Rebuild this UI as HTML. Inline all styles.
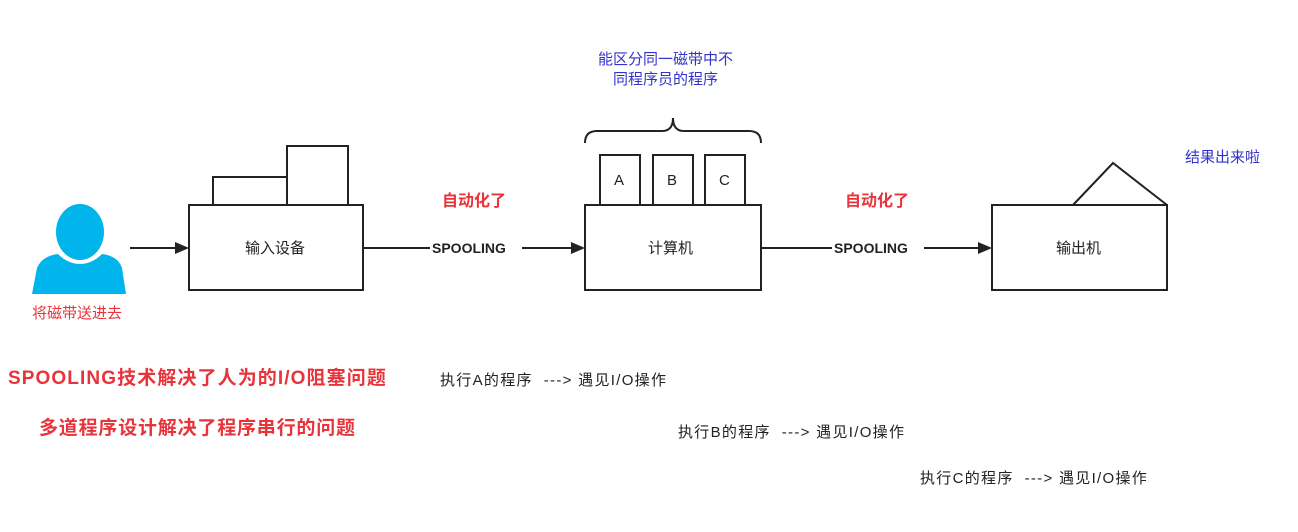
<!DOCTYPE html>
<html><head><meta charset="utf-8"><style>
body{margin:0;background:#fff;width:1298px;height:532px;overflow:hidden;position:relative;font-family:"Liberation Sans","Noto Sans CJK SC",sans-serif}
.t{position:absolute;white-space:nowrap;line-height:1}
.r{color:#e8333a;font-weight:bold}
.b{color:#3333cc}
.k{color:#222;font-size:15px;letter-spacing:1.3px}
</style></head><body>
<svg width="1298" height="532" style="position:absolute;left:0;top:0">
<g fill="none" stroke="#222" stroke-width="2">
<rect x="213" y="177" width="74" height="28" fill="#fff"/>
<rect x="287" y="146" width="61" height="59" fill="#fff"/>
<rect x="189" y="205" width="174" height="85" fill="#fff"/>
<rect x="600" y="155" width="40" height="50"/>
<rect x="653" y="155" width="40" height="50"/>
<rect x="705" y="155" width="40" height="50"/>
<rect x="585" y="205" width="176" height="85"/>
<path d="M1073 205 L1113 163 L1167 205"/>
<rect x="992" y="205" width="175" height="85"/>
<path d="M585 143 Q585 131 597 131 L662 131 Q673 131 673 118 Q673 131 684 131 L749 131 Q761 131 761 143"/>
<line x1="130" y1="248" x2="178" y2="248"/>
<line x1="363" y1="248" x2="430" y2="248"/>
<line x1="522" y1="248" x2="574" y2="248"/>
<line x1="761" y1="248" x2="832" y2="248"/>
<line x1="924" y1="248" x2="981" y2="248"/>
</g>
<g fill="#222">
<polygon points="189,248 175,242 175,254"/>
<polygon points="585,248 571,242 571,254"/>
<polygon points="992,248 978,242 978,254"/>
</g>
<g fill="#00b4ec">
<ellipse cx="80" cy="232" rx="24" ry="28"/>
<path d="M32 294 L37 268 Q42 256 58 254 Q68 264 80 264 Q92 264 102 254 Q118 256 122 268 L126 294 Z"/>
</g>
</svg>
<div class="t" style="left:245px;top:241px;font-size:15px;color:#222">输入设备</div>
<div class="t" style="left:432px;top:241px;font-size:14px;font-weight:bold;color:#222">SPOOLING</div>
<div class="t" style="left:834px;top:241px;font-size:14px;font-weight:bold;color:#222">SPOOLING</div>
<div class="t" style="left:648px;top:241px;font-size:15px;color:#222">计算机</div>
<div class="t" style="left:1056px;top:241px;font-size:15px;color:#222">输出机</div>
<div class="t" style="left:614px;top:173px;font-size:15px;color:#222">A</div>
<div class="t" style="left:667px;top:173px;font-size:15px;color:#222">B</div>
<div class="t" style="left:719px;top:173px;font-size:15px;color:#222">C</div>
<div class="t r" style="left:442px;top:194px;font-size:16px">自动化了</div>
<div class="t r" style="left:845px;top:194px;font-size:16px">自动化了</div>
<div class="t" style="left:32px;top:306px;font-size:15px;color:#e8333a">将磁带送进去</div>
<div class="t b" style="left:598px;top:52px;font-size:15px">能区分同一磁带中不</div>
<div class="t b" style="left:613px;top:72px;font-size:15px">同程序员的程序</div>
<div class="t b" style="left:1185px;top:150px;font-size:15px">结果出来啦</div>
<div class="t r" style="left:8px;top:369px;font-size:19px;letter-spacing:1.1px">SPOOLING技术解决了人为的I/O阻塞问题</div>
<div class="t r" style="left:39px;top:419px;font-size:19px;letter-spacing:0.8px">多道程序设计解决了程序串行的问题</div>
<div class="t k" style="left:440px;top:373px">执行A的程序&nbsp; ---&gt; 遇见I/O操作</div>
<div class="t k" style="left:678px;top:425px">执行B的程序&nbsp; ---&gt; 遇见I/O操作</div>
<div class="t k" style="left:920px;top:471px">执行C的程序&nbsp; ---&gt; 遇见I/O操作</div>
</body></html>
